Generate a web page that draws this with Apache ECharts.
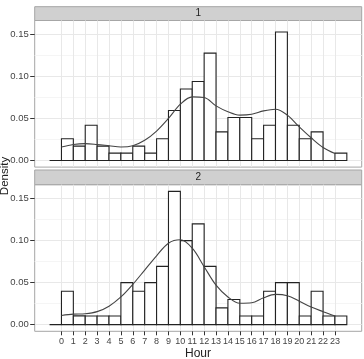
<!DOCTYPE html>
<html>
<head>
<meta charset="utf-8">
<script src="https://cdn.jsdelivr.net/npm/echarts@6/dist/echarts.min.js"></script>
<style>html,body{margin:0;padding:0;background:#fff}#c{width:364px;height:359px}</style>
</head>
<body>
<div id="c"></div>
<script>
// Histogram bins (left edge of each 1-hour bin)
const hours = [-1,0,1,2,3,4,5,6,7,8,9,10,11,12,13,14,15,16,17,18,19,20,21,22,23];
// Panel "1" histogram densities
const hist1 = [0,0.0258,0.0171,0.042,0.0171,0.0087,0.0087,0.0171,0.0087,0.0258,0.0595,0.085,0.094,0.1278,0.034,0.0512,0.0512,0.0258,0.042,0.153,0.042,0.0258,0.034,0,0.0087];
// Panel "2" histogram densities
const hist2 = [0,0.0397,0.0105,0.0103,0.0103,0.0103,0.05,0.0397,0.05,0.0694,0.1587,0.1,0.12,0.0694,0.02,0.030,0.0103,0.0103,0.0397,0.05,0.05,0.0103,0.0397,0.0103,0.0103];
// Kernel density curves
const curveHours = [0,1,2,3,4,5,6,7,8,9,10,11,12,13,14,15,16,17,18,19,20,21,22,23];
const curve1 = [0.016,0.019,0.020,0.019,0.0175,0.016,0.0175,0.024,0.035,0.050,0.067,0.0757,0.075,0.065,0.058,0.054,0.055,0.059,0.061,0.054,0.040,0.027,0.0155,0.0083];
const curve2 = [0.011,0.0125,0.013,0.0155,0.022,0.033,0.048,0.065,0.082,0.097,0.101,0.091,0.069,0.047,0.033,0.0255,0.026,0.032,0.036,0.0345,0.028,0.021,0.0155,0.0104];
const panels = ['1','2'];
const xTicks = [0,1,2,3,4,5,6,7,8,9,10,11,12,13,14,15,16,17,18,19,20,21,22,23];
const yTicks = [0,0.05,0.10,0.15];
const yMinor = [0.025,0.075,0.125];

const FONT = 'Liberation Sans, Arial, sans-serif';
const chart = echarts.init(document.getElementById('c'), null, {renderer:'canvas'});

const gridTop = [20.5, 184.7];
const gridH = 146.6;
const gridLeft = 34.7, gridRight = 2.3;

const grids = [], xAxes = [], yAxes = [], series = [];
[0,1].forEach(i => {
  grids.push({left:gridLeft, right:gridRight, top:gridTop[i], height:gridH, show:true,
    backgroundColor:'#fff', borderColor:'#a6a6a6', borderWidth:1, containLabel:false});
  xAxes.push({type:'value', gridIndex:i, min:-2.25, max:25.25, position:'bottom',
    axisLine:{show:false, onZero:false},
    axisTick:{show:i===1, customValues:xTicks, length:4, lineStyle:{color:'#333'}},
    axisLabel:{show:i===1, customValues:xTicks, margin:6, fontSize:9, color:'#444', fontFamily:FONT},
    splitLine:{show:true, lineStyle:{color:'#e8e8e8', width:1}}});
  yAxes.push({type:'value', gridIndex:i, min:-0.0079, max:0.1666, position:'left',
    axisLine:{show:false, onZero:false},
    axisTick:{show:true, customValues:yTicks, length:4.5, lineStyle:{color:'#333'}},
    axisLabel:{show:true, customValues:yTicks, margin:6, fontSize:9.5, color:'#444', fontFamily:FONT,
      formatter:v => v.toFixed(2)},
    splitLine:{show:true, lineStyle:{color:'#e8e8e8', width:1}}});
  yAxes.push({type:'value', gridIndex:i, min:-0.0079, max:0.1666, position:'right',
    axisLine:{show:false, onZero:false}, axisTick:{show:false, customValues:yMinor}, axisLabel:{show:false, customValues:yMinor},
    splitLine:{show:true, lineStyle:{color:'#f5f5f5', width:1}}});
});

const hists = [hist1, hist2];
const curves = [curve1, curve2];
[0,1].forEach(i => {
  series.push({type:'custom', xAxisIndex:i, yAxisIndex:i*2,
    data: hours.map((h,k) => [h, hists[i][k]]),
    renderItem:(params, api) => {
      const h = api.value(0), v = api.value(1);
      const p0 = api.coord([h, 0]);
      const p1 = api.coord([h+1, v]);
      return {type:'rect', shape:{x:p0[0], y:p1[1], width:p1[0]-p0[0], height:p0[1]-p1[1]},
        style:{fill:'#fff', stroke:'#222', lineWidth:1.1}};
    }, silent:true, z:2});
  series.push({type:'line', xAxisIndex:i, yAxisIndex:i*2,
    data: curveHours.map((h,k) => [h, curves[i][k]]),
    smooth:0.35, symbol:'none', lineStyle:{color:'#444', width:1.1}, silent:true, z:3});
});

const strips = [];
[0,1].forEach(i => {
  const top = i === 0 ? 6.7 : 170;
  strips.push({type:'rect', shape:{x:gridLeft, y:top, width:364-gridLeft-gridRight, height:gridTop[i]-top},
    style:{fill:'#d0d0d0', stroke:'#a6a6a6', lineWidth:1}});
  strips.push({type:'text', x:gridLeft + (364-gridLeft-gridRight)/2, y:top + (gridTop[i]-top)/2,
    style:{text:panels[i], font:'10px ' + FONT, fill:'#222', align:'center', verticalAlign:'middle'}});
});
strips.push({type:'text', x:5, y:176, rotation:Math.PI/2,
  style:{text:'Density', font:'11.5px ' + FONT, fill:'#222', align:'center', verticalAlign:'middle'}});
strips.push({type:'text', x:198, y:354,
  style:{text:'Hour', font:'12px ' + FONT, fill:'#222', align:'center', verticalAlign:'middle'}});

chart.setOption({
  animation:false,
  grid:grids, xAxis:xAxes, yAxis:yAxes, series:series,
  graphic:strips
});
</script>
</body>
</html>
